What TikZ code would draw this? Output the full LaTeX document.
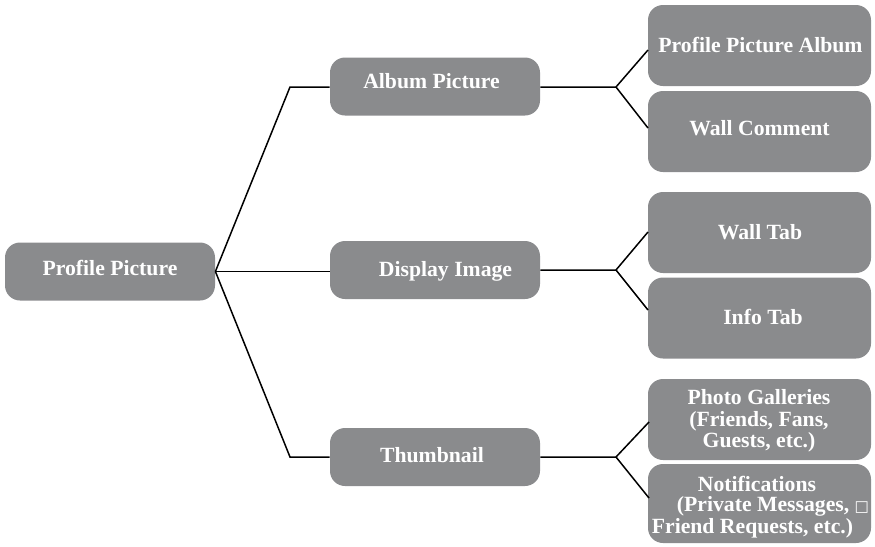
\documentclass[tikz,border=0pt]{standalone}
\usepackage{fontspec}
\setmainfont{Liberation Serif}
\newfontfamily\symfont{DejaVu Sans}
\definecolor{boxgray}{RGB}{138,139,141}
\tikzset{
  box/.style={fill=boxgray, draw=none, rounded corners=7.5pt, inner sep=0pt},
  midbox/.style={box, minimum width=105pt, minimum height=29pt},
  leafbox/.style={box, minimum width=111.5pt, minimum height=40.5pt},
  txt/.style={text=white, inner sep=0pt, align=center,
    font=\bfseries\fontsize{10.85}{11.6}\selectfont},
  lbl/.style={txt, anchor=base},
  link/.style={draw=black, line width=0.75pt}
}
\begin{document}
\begin{tikzpicture}[x=0.5pt, y=-0.5pt]
\useasboundingbox (0,0) rectangle (875,547);
% boxes
\node[midbox] (pp) at (110,271.5) {};
\node[midbox] (ap) at (435,86.5) {};
\node[midbox] (di) at (435,270) {};
\node[midbox] (th) at (435,457) {};
\node[leafbox] (ppa) at (759.5,45.5) {};
\node[leafbox] (wc) at (759.5,131.5) {};
\node[leafbox] (wt) at (759.5,232.5) {};
\node[leafbox] (it) at (759.5,318) {};
\node[leafbox] (pg) at (759.5,419.5) {};
\node[leafbox, minimum height=39.5pt] (nt) at (759.5,503.5) {};
% texts
\node[lbl] (pptx) at (110,275) {Profile Picture};
\node[lbl] (aptx) at (431.5,88) {Album Picture};
\node[lbl] (ditx) at (445.5,276) {Display Image};
\node[lbl] (thtx) at (432,462) {Thumbnail};
\node[lbl] (ppatx) at (760.5,52) {Profile Picture Album};
\node[lbl] (wctx) at (759.5,135) {Wall Comment};
\node[lbl] (wttx) at (760,239) {Wall Tab};
\node[lbl] (ittx) at (763,324) {Info Tab};
\node[txt, font=\bfseries\fontsize{10.85}{10.75}\selectfont] (pgtx) at (759,421) {Photo Galleries\\(Friends, Fans,\\Guests, etc.)};
\node[txt, font=\bfseries\fontsize{10.85}{9.75}\selectfont] (nttx) at (757,507) {Notifications\\\hspace*{16pt}(Private Messages, {\symfont\mdseries\fontsize{7.6}{8}\selectfont□}\\Friend Requests, etc.)\hspace*{4.5pt}};
% joints
\coordinate (k1) at (290,87);
\coordinate (k3) at (290,457);
\coordinate (fa) at (616,87);
\coordinate (fd) at (616,270);
\coordinate (ft) at (616,457);
\coordinate (e1) at (648,50);
\coordinate (e2) at (648,128);
\coordinate (e3) at (648,232);
\coordinate (e4) at (648,310);
\coordinate (e5) at (649,422);
\coordinate (e6) at (649,498);
% connectors
\draw[link] (pp.east) -- (k1) -- (ap.west |- k1);
\draw[link] (pp.east) -- (di.west |- pp.east);
\draw[link] (pp.east) -- (k3) -- (th.west);
\draw[link] (ap.east |- fa) -- (fa) -- (e1);
\draw[link] (fa) -- (e2);
\draw[link] (di.east) -- (fd) -- (e3);
\draw[link] (fd) -- (e4);
\draw[link] (th.east) -- (ft) -- (e5);
\draw[link] (ft) -- (e6);
\end{tikzpicture}
\end{document}
